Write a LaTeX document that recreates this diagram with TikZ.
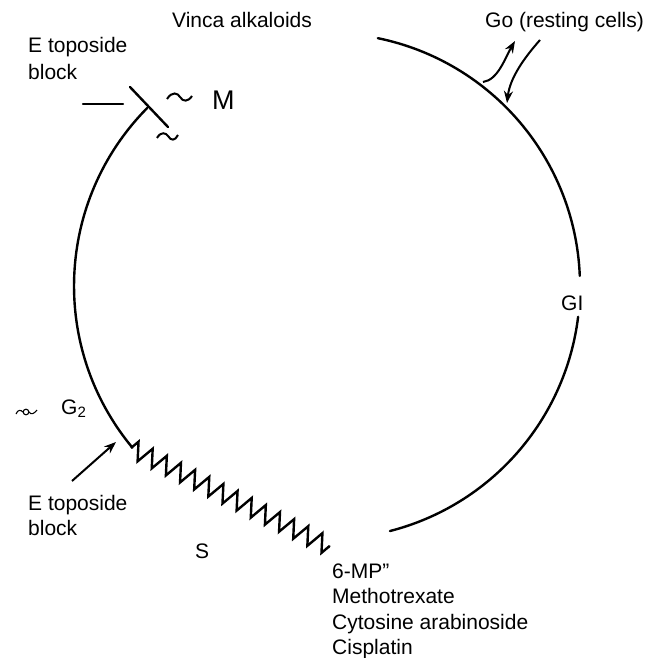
\documentclass[tikz,border=0pt]{standalone}
\usepackage{fontspec}
\setmainfont{Liberation Sans}
\usetikzlibrary{decorations.pathmorphing,arrows.meta}
\begin{document}
\begin{tikzpicture}[x=1pt,y=-1pt,
  ln/.style={line width=2.4pt, line cap=round},
  thin/.style={line width=2pt},
  lbl/.style={font=\fontsize{21}{26}\selectfont, inner sep=0pt, anchor=base west},
  big/.style={font=\fontsize{27}{30}\selectfont, inner sep=0pt, anchor=base west},
  tip/.style={-{Stealth[length=12pt,width=9pt]}}]
\useasboundingbox (0,0) rectangle (654,658);
\coordinate (C) at (327,286);
% cycle arcs
\draw[ln] ([shift={(C)}]-78.4:253) arc[start angle=-78.4, end angle=-2.3, radius=253];
\draw[ln] ([shift={(C)}]7:253) arc[start angle=7, end angle=75.6, radius=253];
\draw[ln] ([shift={(C)}]224.7:253) coordinate (lt) arc[start angle=224.7, end angle=140.3, radius=253] coordinate (lb);
% S phase zigzag
\coordinate (zs) at (131,448);
\coordinate (ze) at (330,547);
\draw[line width=2.4pt, line join=miter, decorate, decoration={zigzag, segment length=15.8pt, amplitude=9pt}] (zs) -- (ze);
% etoposide block at M
\coordinate (h1) at (83,104); \coordinate (h2) at (123,104);
\coordinate (b1) at (130,87); \coordinate (b2) at (168,127);
\draw[ln] (h1) -- (h2);
\draw[ln] (b1) -- (b2);
% tildes
\draw[thin] (167,99) .. controls (172,91) and (178,93) .. (180,97) .. controls (183,102) and (188,102) .. (192,96);
\draw[thin] (157,138) .. controls (161,131) and (166,133) .. (168,136) .. controls (171,141) and (175,141) .. (178,135);
% small symbol near G2
\draw[line width=1.1pt] (16,414) .. controls (18,409) and (21,410) .. (23,412);
\draw[line width=1.1pt] (26,412) circle (2.8);
\draw[line width=1.1pt] (29,412) .. controls (31,415) and (34,414) .. (37,410);
% Go arrows
\coordinate (o1) at (483,82); \coordinate (o2) at (515,41);
\draw[thin, tip] (o1) .. controls (498,80) and (505,58) .. (o2);
\coordinate (i1) at (540,40); \coordinate (i2) at (507,103);
\draw[thin, tip] (i1) .. controls (524,58) and (510,78) .. (i2);
% lower etoposide arrow
\coordinate (a1) at (72,481); \coordinate (a2) at (116,442);
\draw[thin, tip] (a1) -- (a2);
% labels
\node[lbl] (vinca) at (172,28) {Vinca alkaloids};
\node[lbl] (go) at (485,28) {Go (resting cells)};
\node[lbl] (et1) at (28,53) {E toposide};
\node[lbl] (et1b) at (28,80) {block};
\node[big] (m) at (212,110) {M};
\node[lbl] (gi) at (561,310) {GI};
\node[lbl] (g2) at (61,414) {G\raisebox{-0.35ex}{\fontsize{15}{15}\selectfont 2}};
\node[lbl] (et2) at (28,510) {E toposide};
\node[lbl] (et2b) at (28,535) {block};
\node[lbl] (s) at (195,558) {S};
\node[lbl] (d1) at (332,578) {6-MP”};
\node[lbl] (d2) at (332,603.5) {Methotrexate};
\node[lbl] (d3) at (332,629) {Cytosine arabinoside};
\node[lbl] (d4) at (332,654) {Cisplatin};
\end{tikzpicture}
\end{document}
